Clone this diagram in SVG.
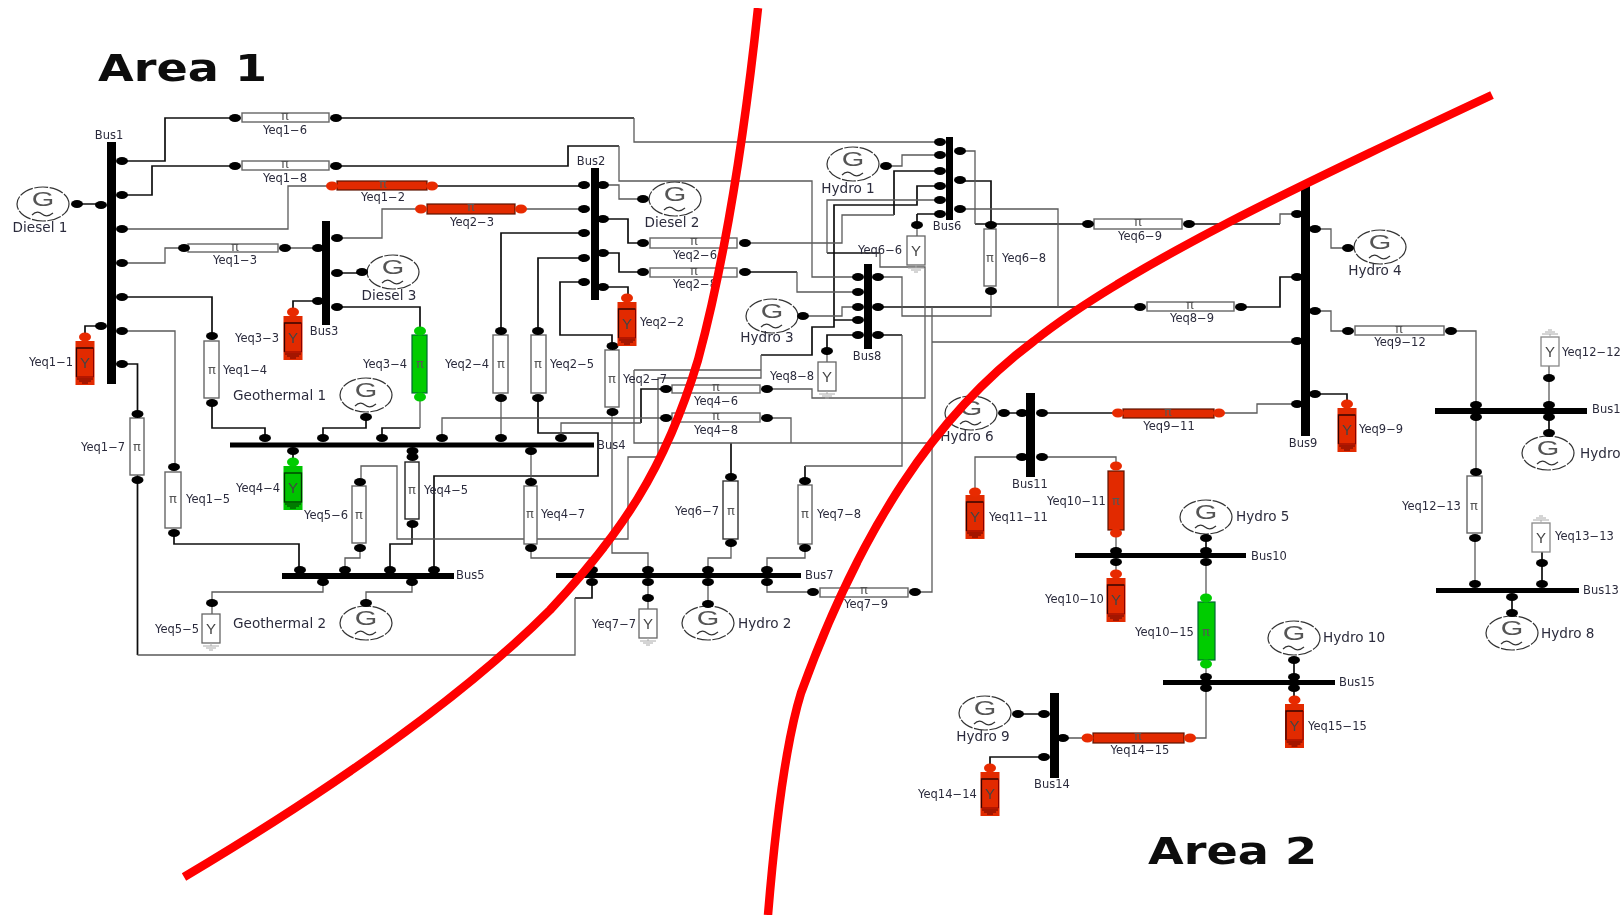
<svg xmlns="http://www.w3.org/2000/svg" xmlns:xlink="http://www.w3.org/1999/xlink" width="1621" height="915" viewBox="0 0 1621 915">
<style>
text{font-family:"DejaVu Sans",sans-serif;fill:#2c2c3c}
.t,.k{fill:none}
.t{stroke:#5a5a5a;stroke-width:1.3}
.k{stroke:#0c0c0c;stroke-width:1.7}
.bar{fill:#000}
.l{font-size:11.5px}
.b{font-size:11.5px}
.g{font-size:13.6px}
.m{text-anchor:middle}
.tw{fill:#fff;stroke:#666;stroke-width:1.4}
.tr{fill:#e22c00;stroke:#5a1000;stroke-width:1.2}
.tg{fill:#00cc00;stroke:#063;stroke-width:1.2}
.pi{font-size:13px;text-anchor:middle;fill:#555}
.Y{font-family:"Liberation Sans",sans-serif;font-size:15px;text-anchor:middle;fill:#444}
.gl{font-family:"Liberation Sans",sans-serif;font-size:20px;text-anchor:middle;fill:#555}
.area{font-family:"DejaVu Sans",sans-serif;font-weight:700;font-size:37px;fill:#111}
.cut{fill:none;stroke:#f00;stroke-width:8.5}
</style>
<defs>
<filter id="soft" x="0" y="0" width="100%" height="100%"><feGaussianBlur stdDeviation="0.5"/></filter>
<ellipse id="d" rx="6" ry="4" fill="#000"/>
<ellipse id="dr" rx="6" ry="4.5" fill="#e82c00"/>
<ellipse id="dg" rx="6" ry="4.5" fill="#00cc00"/>
<g id="gen"><ellipse rx="26" ry="17" fill="#fff" stroke="#333" stroke-width="1.2" stroke-dasharray="14 1.5"/><text class="gl" transform="scale(1.45,1)" y="2">G</text><path d="M-11,11q5,-5 10,-1t11,-1" fill="none" stroke="#333" stroke-width="1.2"/></g>
<g id="shr"><rect x="-9.5" y="0" width="19" height="44" fill="#e22c00"/><path d="M-8.5,36V7H8.5" fill="none" stroke="#300" stroke-width="1.3"/><path d="M8.5,7V36H-8.5" fill="none" stroke="#800" stroke-width="1"/><text class="Y" y="27">Y</text><path d="M-8,38H8M-6,40H6M-3,42H3" stroke="#600" fill="none"/></g>
<g id="shg"><rect x="-9.5" y="0" width="19" height="44" fill="#00c400"/><rect x="-8.5" y="7" width="17" height="29" fill="none" stroke="#030" stroke-width="1.3"/><text class="Y" y="27">Y</text><path d="M-8,38H8M-6,40H6M-3,42H3" stroke="#030" fill="none"/></g>
<g id="shw"><rect x="-9" y="0" width="18" height="29" fill="#fff" stroke="#666" stroke-width="1.3"/><text class="Y" y="20">Y</text><path d="M-8,32H8M-5,34H5M-2,36H2M0,29V32" stroke="#aaa" fill="none"/></g>
<g id="shu"><rect x="-9" y="0" width="18" height="29" fill="#fff" stroke="#888" stroke-width="1.3"/><text class="Y" y="20">Y</text><path d="M-8,-3H8M-5,-5H5M-2,-7H2M0,0V-3" stroke="#aaa" fill="none"/></g>
</defs>
<rect width="1621" height="915" fill="#fff"/>
<g filter="url(#soft)">
<g id="connectors">
<path class="k" d="M122,161H165V118H235M336,118H634M122,195H152V166H235M336,166H568V146H619M437,186H584M122,297H212V336M212,403V428H265V438M122,364H137.5V655M101,326H85V337M77,204H101M337,273H362M318,301H293V312M337,307H420V331M420,428H382V438M323,438V428H366V417M501,331V233H584M538,331V258H584M538,398V433H598V476H434V570M641,423V389H666M293,451V462M412,524V544H390V570M174,533V544H299V570M603,219H628V243H643M603,253H619V272H643M745,272H797M603,287H628V298M584,282H560V335H612V346M894,215V171H940M940,186H917V205H834V327H812V355H761M858,320H834M731,443V477M878,307H1140M858,335H827V351M878,335H902M805,466V481M963,181H991V225M975,224H1088M1189,224H1280M1241,307H1280V277H1297M1315,394H1347V404M1042,413H1118M1004,413H1022M1206,538V551M1294,660V677M1294,688V700M1018,714H1044M1044,757H990V768M1549,417V433M1542,551V584M1512,597V613M827,253H880M917,214H940M917,214V225M592,582V598H575"/>
<path class="t" d="M634,118V142H940M619,146V181H812V277H858M122,229H288V186H327M421,209H382V238H337M521,209H584M122,263H165V248H184M285,248H318M122,331H175V467M137.5,655H575V598M420,397V428M442,438V418H666M501,398V438M561,438V423H641M531,451V482M531,548V558H591V570M360,548V558H345V570M323,582V592H212V614M412,582V592H366V603M603,185H619V199H643M612,412V553H648V570M745,243H842V215H894M797,272V292H858M761,355V378H658V457H628V539H397V466H361V478M634,370H761M634,370V443H932M791,443V418H767M731,543V558H708V570M708,582V604M805,548V558H767V570M767,582V592H813M915,592H932V307M932,342H1297M858,307H842V316H803M902,335V466H805M878,277H902V316H991V291M963,151H975V224M963,209H1058V307M1280,224V214H1297M1315,229H1331V248H1348M1315,311H1331V331H1348M1451,331H1476V404M1476,417V472M1475,538V584M1219,413H1257V404H1297M1022,457H975V492M1042,457H1116V466M1116,533V551M1116,562V574M1206,562V598M1206,664V677M1190,738H1206V688M1063,738H1087M1549,366V405M886,166H902V155H940M940,200H827V253M880,253V267H925V398H812V389H767M917,225V236M648,582V609M827,351V362"/>
</g>
<g id="Bus1"><rect class="bar" x="107" y="142" width="9" height="242"/><use href="#d" x="122" y="161"/><use href="#d" x="122" y="195"/><use href="#d" x="122" y="229"/><use href="#d" x="122" y="263"/><use href="#d" x="122" y="297"/><use href="#d" x="122" y="331"/><use href="#d" x="122" y="364"/><use href="#d" x="101" y="205"/><use href="#d" x="101" y="326"/><text class="b m" x="109" y="139">Bus1</text></g>
<g id="Bus2"><rect class="bar" x="591" y="168" width="8" height="132"/><use href="#d" x="584" y="185"/><use href="#d" x="584" y="209"/><use href="#d" x="584" y="233"/><use href="#d" x="584" y="258"/><use href="#d" x="584" y="282"/><use href="#d" x="603" y="185"/><use href="#d" x="603" y="219"/><use href="#d" x="603" y="253"/><use href="#d" x="603" y="287"/><text class="b m" x="591" y="165">Bus2</text></g>
<g id="Bus3"><rect class="bar" x="322" y="221" width="8" height="104"/><use href="#d" x="337" y="238"/><use href="#d" x="337" y="273"/><use href="#d" x="337" y="307"/><use href="#d" x="318" y="248"/><use href="#d" x="318" y="301"/><text class="b m" x="324" y="335">Bus3</text></g>
<g id="Bus4"><rect class="bar" x="230" y="442.5" width="364" height="5"/><use href="#d" x="265" y="438"/><use href="#d" x="323" y="438"/><use href="#d" x="382" y="438"/><use href="#d" x="442" y="438"/><use href="#d" x="501" y="438"/><use href="#d" x="561" y="438"/><use href="#d" x="293" y="451"/><use href="#d" x="412.5" y="451"/><use href="#d" x="531" y="451"/><text class="b" x="597" y="449">Bus4</text></g>
<g id="Bus5"><rect class="bar" x="282" y="573" width="172" height="6"/><use href="#d" x="300" y="570"/><use href="#d" x="345" y="570"/><use href="#d" x="390" y="570"/><use href="#d" x="434" y="570"/><use href="#d" x="323" y="582"/><use href="#d" x="412" y="582"/><text class="b" x="456" y="579">Bus5</text></g>
<g id="Bus6"><rect class="bar" x="946" y="137" width="7" height="83"/><use href="#d" x="940" y="142"/><use href="#d" x="940" y="155"/><use href="#d" x="940" y="171"/><use href="#d" x="940" y="186"/><use href="#d" x="940" y="200"/><use href="#d" x="940" y="214"/><use href="#d" x="960" y="151"/><use href="#d" x="960" y="180"/><use href="#d" x="960" y="209"/><text class="b m" x="947" y="230">Bus6</text></g>
<g id="Bus7"><rect class="bar" x="556" y="573" width="245" height="5"/><use href="#d" x="592" y="570"/><use href="#d" x="648" y="570"/><use href="#d" x="708" y="570"/><use href="#d" x="767" y="570"/><use href="#d" x="592" y="582"/><use href="#d" x="648" y="582"/><use href="#d" x="708" y="582"/><use href="#d" x="767" y="582"/><text class="b" x="805" y="579">Bus7</text></g>
<g id="Bus8"><rect class="bar" x="864" y="264" width="8" height="85"/><use href="#d" x="858" y="277"/><use href="#d" x="858" y="292"/><use href="#d" x="858" y="307"/><use href="#d" x="858" y="320"/><use href="#d" x="858" y="335"/><use href="#d" x="878" y="277"/><use href="#d" x="878" y="307"/><use href="#d" x="878" y="335"/><text class="b m" x="867" y="360">Bus8</text></g>
<g id="Bus9"><rect class="bar" x="1301" y="184" width="9" height="252"/><use href="#d" x="1297" y="214"/><use href="#d" x="1297" y="277"/><use href="#d" x="1297" y="341"/><use href="#d" x="1297" y="404"/><use href="#d" x="1315" y="229"/><use href="#d" x="1315" y="311"/><use href="#d" x="1315" y="394"/><text class="b m" x="1303" y="447">Bus9</text></g>
<g id="Bus10"><rect class="bar" x="1075" y="553" width="171" height="5"/><use href="#d" x="1116" y="551"/><use href="#d" x="1206" y="551"/><use href="#d" x="1116" y="562"/><use href="#d" x="1206" y="562"/><text class="b" x="1251" y="560">Bus10</text></g>
<g id="Bus11"><rect class="bar" x="1026" y="393" width="9" height="84"/><use href="#d" x="1022" y="413"/><use href="#d" x="1042" y="413"/><use href="#d" x="1022" y="457"/><use href="#d" x="1042" y="457"/><text class="b m" x="1030" y="488">Bus11</text></g>
<g id="Bus12"><rect class="bar" x="1435" y="408" width="152" height="6"/><use href="#d" x="1476" y="405"/><use href="#d" x="1549" y="405"/><use href="#d" x="1476" y="417"/><use href="#d" x="1549" y="417"/><text class="b" x="1592" y="413">Bus1</text></g>
<g id="Bus13"><rect class="bar" x="1436" y="588" width="143" height="5"/><use href="#d" x="1475" y="584"/><use href="#d" x="1542" y="584"/><use href="#d" x="1512" y="597"/><text class="b" x="1583" y="594">Bus13</text></g>
<g id="Bus14"><rect class="bar" x="1050" y="693" width="9" height="85"/><use href="#d" x="1044" y="714"/><use href="#d" x="1044" y="757"/><use href="#d" x="1063" y="738"/><text class="b m" x="1052" y="788">Bus14</text></g>
<g id="Bus15"><rect class="bar" x="1163" y="680" width="172" height="5"/><use href="#d" x="1206" y="677"/><use href="#d" x="1294" y="677"/><use href="#d" x="1206" y="688"/><use href="#d" x="1294" y="688"/><text class="b" x="1339" y="686">Bus15</text></g>

<g id="Diesel1"><use href="#gen" x="43" y="204"/><use href="#d" x="77" y="204"/><text class="g m" x="40" y="232">Diesel 1</text></g>
<g id="Diesel2"><use href="#gen" x="675" y="199"/><use href="#d" x="643" y="199"/><text class="g m" x="672" y="227">Diesel 2</text></g>
<g id="Diesel3"><use href="#gen" x="393" y="272"/><use href="#d" x="362" y="272"/><text class="g m" x="389" y="300">Diesel 3</text></g>
<g id="Geothermal1"><use href="#gen" x="366" y="395"/><use href="#d" x="366" y="417"/><text class="g" x="233" y="400">Geothermal 1</text></g>
<g id="Geothermal2"><use href="#gen" x="366" y="623"/><use href="#d" x="366" y="603"/><text class="g" x="233" y="628">Geothermal 2</text></g>
<g id="Hydro1"><use href="#gen" x="853" y="164"/><use href="#d" x="886" y="166"/><text class="g m" x="848" y="193">Hydro 1</text></g>
<g id="Hydro2"><use href="#gen" x="708" y="623"/><use href="#d" x="708" y="604"/><text class="g" x="738" y="628">Hydro 2</text></g>
<g id="Hydro3"><use href="#gen" x="772" y="316"/><use href="#d" x="803" y="316"/><text class="g m" x="767" y="342">Hydro 3</text></g>
<g id="Hydro4"><use href="#gen" x="1380" y="247"/><use href="#d" x="1348" y="248"/><text class="g m" x="1375" y="275">Hydro 4</text></g>
<g id="Hydro5"><use href="#gen" x="1206" y="517"/><use href="#d" x="1206" y="538"/><text class="g" x="1236" y="521">Hydro 5</text></g>
<g id="Hydro6"><use href="#gen" x="971" y="413"/><use href="#d" x="1004" y="413"/><text class="g m" x="967" y="441">Hydro 6</text></g>
<g id="Hydro7"><use href="#gen" x="1548" y="453"/><use href="#d" x="1549" y="433"/><text class="g" x="1580" y="458">Hydro</text></g>
<g id="Hydro8"><use href="#gen" x="1512" y="633"/><use href="#d" x="1512" y="613"/><text class="g" x="1541" y="638">Hydro 8</text></g>
<g id="Hydro9"><use href="#gen" x="985" y="713"/><use href="#d" x="1018" y="714"/><text class="g m" x="983" y="741">Hydro 9</text></g>
<g id="Hydro10"><use href="#gen" x="1294" y="638"/><use href="#d" x="1294" y="660"/><text class="g" x="1323" y="642">Hydro 10</text></g>

<g id="Yeq1-6"><rect class="tw" x="242" y="113" width="87" height="9"/><text class="pi" x="285" y="120">π</text><use href="#d" x="235" y="118"/><use href="#d" x="336" y="118"/><text class="l m" x="285" y="134">Yeq1−6</text></g>
<g id="Yeq1-8"><rect class="tw" x="242" y="161" width="87" height="9"/><text class="pi" x="285" y="168">π</text><use href="#d" x="235" y="166"/><use href="#d" x="336" y="166"/><text class="l m" x="285" y="182">Yeq1−8</text></g>
<g id="Yeq1-2"><rect class="tr" x="337" y="181" width="90" height="9"/><text class="pi" x="383" y="188">π</text><use href="#dr" x="332" y="186"/><use href="#dr" x="432" y="186"/><text class="l m" x="383" y="201">Yeq1−2</text></g>
<g id="Yeq2-3"><rect class="tr" x="427" y="204" width="88" height="10"/><text class="pi" x="471" y="211">π</text><use href="#dr" x="421" y="209"/><use href="#dr" x="521" y="209"/><text class="l m" x="472" y="226">Yeq2−3</text></g>
<g id="Yeq1-3"><rect class="tw" x="188" y="244" width="90" height="8"/><text class="pi" x="235" y="251">π</text><use href="#d" x="184" y="248"/><use href="#d" x="285" y="248"/><text class="l m" x="235" y="264">Yeq1−3</text></g>
<g id="Yeq1-1"><use href="#shr" x="85" y="341"/><use href="#dr" x="85" y="337"/><text class="l" x="29" y="366">Yeq1−1</text></g>
<g id="Yeq3-3"><use href="#shr" x="293" y="316"/><use href="#dr" x="293" y="312"/><text class="l" x="235" y="342">Yeq3−3</text></g>
<g id="Yeq1-4"><rect class="tw" x="204" y="341" width="15" height="57"/><text class="pi" x="212" y="374">π</text><use href="#d" x="212" y="336"/><use href="#d" x="212" y="403"/><text class="l" x="223" y="374">Yeq1−4</text></g>
<g id="Yeq3-4"><rect class="tg" x="412" y="335" width="15" height="58"/><text class="pi" x="420" y="368">π</text><use href="#dg" x="420" y="331"/><use href="#dg" x="420" y="397"/><text class="l" x="363" y="368">Yeq3−4</text></g>
<g id="Yeq2-4"><rect class="tw" x="493" y="335" width="15" height="58"/><text class="pi" x="501" y="368">π</text><use href="#d" x="501" y="331"/><use href="#d" x="501" y="398"/><text class="l" x="445" y="368">Yeq2−4</text></g>
<g id="Yeq2-5"><rect class="tw" x="531" y="335" width="15" height="58"/><text class="pi" x="538" y="368">π</text><use href="#d" x="538" y="331"/><use href="#d" x="538" y="398"/><text class="l" x="550" y="368">Yeq2−5</text></g>
<g id="Yeq2-7"><rect class="tw" x="605" y="350" width="14" height="57"/><text class="pi" x="612" y="383">π</text><use href="#d" x="612.5" y="346"/><use href="#d" x="612.5" y="412"/><text class="l" x="623" y="383">Yeq2−7</text></g>
<g id="Yeq2-2"><use href="#shr" x="627" y="302"/><use href="#dr" x="627" y="298"/><text class="l" x="640" y="326">Yeq2−2</text></g>
<g id="Yeq2-6"><rect class="tw" x="650" y="238" width="87" height="10"/><text class="pi" x="694" y="245">π</text><use href="#d" x="643" y="243"/><use href="#d" x="745" y="243"/><text class="l m" x="695" y="259">Yeq2−6</text></g>
<g id="Yeq2-8"><rect class="tw" x="650" y="268" width="87" height="9"/><text class="pi" x="694" y="275">π</text><use href="#d" x="643" y="272"/><use href="#d" x="745" y="272"/><text class="l m" x="695" y="288">Yeq2−8</text></g>
<g id="Yeq4-6"><rect class="tw" x="672" y="385" width="88" height="8"/><text class="pi" x="716" y="391">π</text><use href="#d" x="666" y="389"/><use href="#d" x="767" y="389"/><text class="l m" x="716" y="405">Yeq4−6</text></g>
<g id="Yeq4-8"><rect class="tw" x="672" y="413" width="88" height="9"/><text class="pi" x="716" y="420">π</text><use href="#d" x="666" y="418"/><use href="#d" x="767" y="418"/><text class="l m" x="716" y="434">Yeq4−8</text></g>
<g id="Yeq1-7"><rect class="tw" x="130" y="418" width="14" height="57"/><text class="pi" x="137" y="451">π</text><use href="#d" x="137.5" y="414"/><use href="#d" x="137.5" y="480"/><text class="l" x="81" y="451">Yeq1−7</text></g>
<g id="Yeq1-5"><rect class="tw" x="165" y="472" width="16" height="56"/><text class="pi" x="173" y="503">π</text><use href="#d" x="174" y="467"/><use href="#d" x="174" y="533"/><text class="l" x="186" y="503">Yeq1−5</text></g>
<g id="Yeq4-4"><use href="#shg" x="293" y="466"/><use href="#dg" x="293" y="462"/><text class="l" x="236" y="492">Yeq4−4</text></g>
<g id="Yeq5-6"><rect class="tw" x="352" y="486" width="14" height="57"/><text class="pi" x="359" y="519">π</text><use href="#d" x="360" y="482"/><use href="#d" x="360" y="548"/><text class="l" x="304" y="519">Yeq5−6</text></g>
<g id="Yeq4-5"><rect class="tw" x="405" y="462" width="14" height="57" style="stroke:#222"/><text class="pi" x="412" y="494">π</text><use href="#d" x="412.5" y="457"/><use href="#d" x="412.5" y="524"/><text class="l" x="424" y="494">Yeq4−5</text></g>
<g id="Yeq4-7"><rect class="tw" x="524" y="486" width="13" height="58"/><text class="pi" x="530" y="518">π</text><use href="#d" x="531" y="482"/><use href="#d" x="531" y="548"/><text class="l" x="541" y="518">Yeq4−7</text></g>
<g id="Yeq5-5"><use href="#shw" x="211" y="614"/><use href="#d" x="212" y="603"/><text class="l" x="155" y="633">Yeq5−5</text></g>
<g id="Yeq6-7"><rect class="tw" x="723" y="481" width="15" height="58" style="stroke:#333"/><text class="pi" x="731" y="515">π</text><use href="#d" x="731" y="477"/><use href="#d" x="731" y="543"/><text class="l" x="675" y="515">Yeq6−7</text></g>
<g id="Yeq7-8"><rect class="tw" x="798" y="485" width="14" height="59"/><text class="pi" x="805" y="518">π</text><use href="#d" x="805" y="481"/><use href="#d" x="805" y="548"/><text class="l" x="817" y="518">Yeq7−8</text></g>
<g id="Yeq7-9"><rect class="tw" x="820" y="588" width="88" height="9"/><text class="pi" x="864" y="594">π</text><use href="#d" x="813" y="592"/><use href="#d" x="915" y="592"/><text class="l m" x="866" y="608">Yeq7−9</text></g>
<g id="Yeq7-7"><use href="#shw" x="648" y="609"/><use href="#d" x="648" y="598"/><text class="l" x="592" y="628">Yeq7−7</text></g>
<g id="Yeq6-6"><use href="#shw" x="916" y="236"/><use href="#d" x="917" y="225"/><text class="l" x="858" y="254">Yeq6−6</text></g>
<g id="Yeq8-8"><use href="#shw" x="827" y="362"/><use href="#d" x="827" y="351"/><text class="l" x="770" y="380">Yeq8−8</text></g>
<g id="Yeq6-8"><rect class="tw" x="984" y="229" width="12" height="57"/><text class="pi" x="990" y="262">π</text><use href="#d" x="991" y="225"/><use href="#d" x="991" y="291"/><text class="l" x="1002" y="262">Yeq6−8</text></g>
<g id="Yeq6-9"><rect class="tw" x="1094" y="219" width="88" height="10"/><text class="pi" x="1138" y="226">π</text><use href="#d" x="1088" y="224"/><use href="#d" x="1189" y="224"/><text class="l m" x="1140" y="240">Yeq6−9</text></g>
<g id="Yeq8-9"><rect class="tw" x="1147" y="302" width="87" height="9"/><text class="pi" x="1190" y="309">π</text><use href="#d" x="1140" y="307"/><use href="#d" x="1241" y="307"/><text class="l m" x="1192" y="322">Yeq8−9</text></g>
<g id="Yeq9-12"><rect class="tw" x="1355" y="326" width="89" height="9"/><text class="pi" x="1399" y="333">π</text><use href="#d" x="1348" y="331"/><use href="#d" x="1451" y="331"/><text class="l m" x="1400" y="346">Yeq9−12</text></g>
<g id="Yeq9-11"><rect class="tr" x="1123" y="409" width="91" height="9"/><text class="pi" x="1168" y="416">π</text><use href="#dr" x="1118" y="413"/><use href="#dr" x="1219" y="413"/><text class="l m" x="1169" y="430">Yeq9−11</text></g>
<g id="Yeq9-9"><use href="#shr" x="1347" y="408"/><use href="#dr" x="1347" y="404"/><text class="l" x="1359" y="433">Yeq9−9</text></g>
<g id="Yeq11-11"><use href="#shr" x="975" y="495"/><use href="#dr" x="975" y="492"/><text class="l" x="989" y="521">Yeq11−11</text></g>
<g id="Yeq10-11"><rect class="tr" x="1108" y="471" width="16" height="59"/><text class="pi" x="1116" y="505">π</text><use href="#dr" x="1116" y="466"/><use href="#dr" x="1116" y="533"/><text class="l" x="1047" y="505">Yeq10−11</text></g>
<g id="Yeq10-10"><use href="#shr" x="1116" y="578"/><use href="#dr" x="1116" y="574"/><text class="l" x="1045" y="603">Yeq10−10</text></g>
<g id="Yeq10-15"><rect class="tg" x="1198" y="602" width="17" height="58"/><text class="pi" x="1206" y="636">π</text><use href="#dg" x="1206" y="598"/><use href="#dg" x="1206" y="664"/><text class="l" x="1135" y="636">Yeq10−15</text></g>
<g id="Yeq15-15"><use href="#shr" x="1294.5" y="704"/><use href="#dr" x="1294.5" y="700"/><text class="l" x="1308" y="730">Yeq15−15</text></g>
<g id="Yeq14-15"><rect class="tr" x="1093" y="733" width="91" height="10"/><text class="pi" x="1138" y="740">π</text><use href="#dr" x="1087.5" y="738"/><use href="#dr" x="1190" y="738"/><text class="l m" x="1140" y="754">Yeq14−15</text></g>
<g id="Yeq14-14"><use href="#shr" x="990" y="772"/><use href="#dr" x="990" y="768"/><text class="l" x="918" y="798">Yeq14−14</text></g>
<g id="Yeq12-12"><use href="#shu" x="1550" y="337"/><use href="#d" x="1549" y="378"/><text class="l" x="1562" y="356">Yeq12−12</text></g>
<g id="Yeq12-13"><rect class="tw" x="1467" y="476" width="15" height="57"/><text class="pi" x="1474" y="510">π</text><use href="#d" x="1476" y="472"/><use href="#d" x="1475" y="538"/><text class="l" x="1402" y="510">Yeq12−13</text></g>
<g id="Yeq13-13"><use href="#shu" x="1541" y="523"/><use href="#d" x="1542" y="563"/><text class="l" x="1555" y="540">Yeq13−13</text></g>

<g id="areas">
<path class="cut" d="M758,8C745,130 725,260 698,360C665,470 620,535 550,610C460,700 330,790 184,877"/>
<path class="cut" d="M1492,95C1300,185 1130,265 1034,341C935,415 860,530 801,693C785,745 775,830 768,915"/>
<text class="area" x="98" y="81" textLength="169" lengthAdjust="spacingAndGlyphs">Area 1</text>
<text class="area" x="1148" y="864" textLength="169" lengthAdjust="spacingAndGlyphs">Area 2</text>
</g>
</g>
</svg>
